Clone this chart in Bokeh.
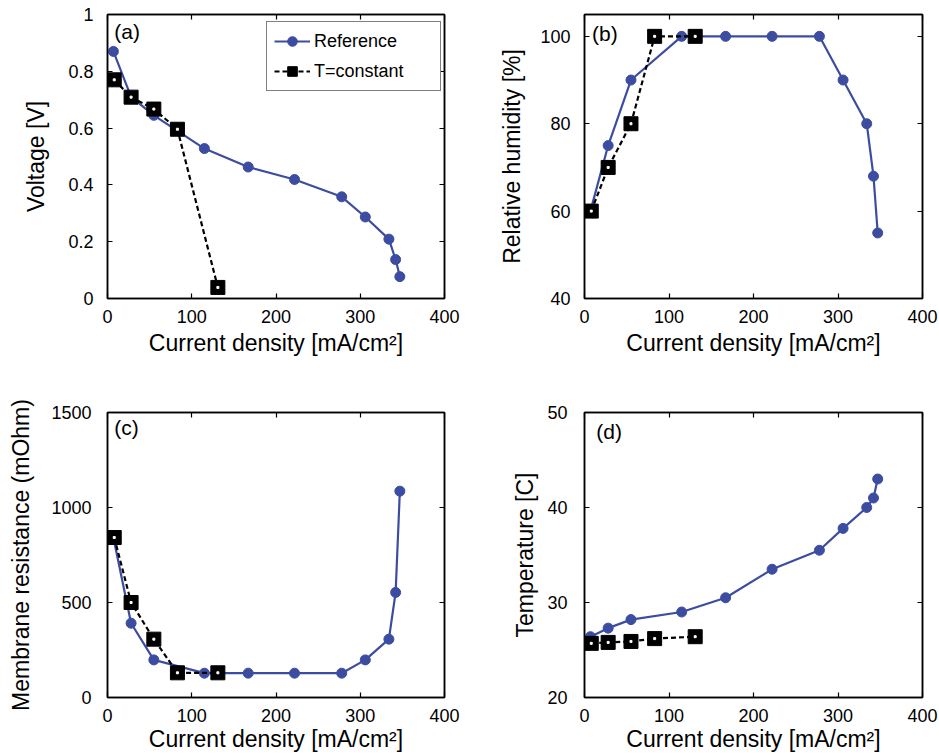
from bokeh.plotting import figure
from bokeh.layouts import column, row
from bokeh.models import (FixedTicker, LinearAxis, Legend, LegendItem, Label, Range1d)
from bokeh.embed import file_html
from bokeh.resources import INLINE

# ---------------- data ----------------
x_ref = [7, 28, 55, 115, 167, 222, 278, 306, 334, 342, 347]
x_tc = [8, 28, 55, 83, 131]

volt_ref = [0.87, 0.71, 0.645, 0.528, 0.463, 0.419, 0.358, 0.287, 0.209, 0.137, 0.077]
volt_tc = [0.77, 0.709, 0.667, 0.596, 0.039]

rh_ref = [60, 75, 90, 100, 100, 100, 100, 90, 80, 68, 55]
rh_tc = [60, 70, 80, 100, 100]

res_ref = [842, 391, 198, 128, 128, 128, 128, 198, 307, 553, 1086]
res_tc = [842, 500, 307, 130, 130]

temp_ref = [26.4, 27.3, 28.2, 29.0, 30.5, 33.5, 35.5, 37.8, 40.0, 41.0, 43.0]
temp_tc = [25.7, 25.8, 25.9, 26.2, 26.4]

x_ticks = [0, 100, 200, 300, 400]
volt_ticks = [0, 0.2, 0.4, 0.6, 0.8, 1.0]
volt_tick_labels = {0: "0", 1: "1"}
rh_ticks = [40, 60, 80, 100]
res_ticks = [0, 500, 1000, 1500]
temp_ticks = [20, 30, 40, 50]

x_label = "Current density [mA/cm\u00b2]"
series_names = ["Reference", "T=constant"]

BLUE = "#3c4da1"
FONT = "Liberation Sans"
TICK_FS = "18px"
LABEL_FS = "23px"


def style_axis(ax, show_labels=True):
    ax.axis_line_color = "black"
    ax.axis_line_width = 1.5
    ax.major_tick_line_color = "black"
    ax.major_tick_line_width = 1.2
    ax.major_tick_in = 5
    ax.major_tick_out = 0
    ax.minor_tick_line_color = None
    ax.major_label_text_font = FONT
    ax.major_label_text_color = "black"
    ax.axis_label_text_font = FONT
    ax.axis_label_text_font_style = "normal"
    ax.axis_label_text_font_size = LABEL_FS
    ax.axis_label_text_color = "black"
    ax.major_label_text_font_size = TICK_FS
    if not show_labels:
        ax.major_label_text_font_size = "1px"
        ax.major_label_text_color = None
        ax.major_label_text_alpha = 0
        ax.major_label_standoff = 0


def make_fig(w, h, bl, br, bt, bb, yr, yticks, ylabel, y_label_standoff,
             y_tick_standoff, xs_ref, ys_ref, xs_tc, ys_tc, tag, tag_xy,
             overrides=None, x_label_standoff=4):
    p = figure(width=w, height=h, output_backend="svg", toolbar_location=None,
               x_range=Range1d(0, 400), y_range=Range1d(*yr),
               min_border_left=bl, min_border_right=br,
               min_border_top=bt, min_border_bottom=bb,
               background_fill_color="white", border_fill_color="white")
    p.grid.visible = False
    p.outline_line_color = "black"
    p.outline_line_width = 1.5

    style_axis(p.xaxis[0])
    p.xaxis[0].ticker = FixedTicker(ticks=x_ticks)
    p.xaxis[0].axis_label = x_label
    p.xaxis[0].major_label_standoff = 11
    p.xaxis[0].axis_label_standoff = x_label_standoff

    style_axis(p.yaxis[0])
    p.yaxis[0].ticker = FixedTicker(ticks=yticks)
    p.yaxis[0].axis_label = ylabel
    p.yaxis[0].major_label_standoff = y_tick_standoff
    p.yaxis[0].axis_label_standoff = y_label_standoff
    if overrides:
        p.yaxis[0].major_label_overrides = overrides

    top = LinearAxis(ticker=FixedTicker(ticks=x_ticks))
    style_axis(top, show_labels=False)
    p.add_layout(top, "above")
    right = LinearAxis(ticker=FixedTicker(ticks=yticks))
    style_axis(right, show_labels=False)
    p.add_layout(right, "right")

    l1 = p.line(xs_ref, ys_ref, line_color=BLUE, line_width=2.2)
    c1 = p.scatter(xs_ref, ys_ref, marker="circle", size=10,
                   fill_color=BLUE, line_color=BLUE)
    l2 = p.line(xs_tc, ys_tc, line_color="black", line_width=2.2,
                line_dash="5 3")
    s2 = p.scatter(xs_tc, ys_tc, marker="square", size=14,
                   fill_color="black", line_color="black")
    p.scatter(xs_tc, ys_tc, marker="square", size=2,
              fill_color="white", line_color="white")

    p.add_layout(Label(x=tag_xy[0], y=tag_xy[1], text=tag,
                       text_font=FONT, text_font_size="21px",
                       text_baseline="top", text_color="black"))
    return p, (l1, c1), (l2, s2)


pa, ra, ta = make_fig(470, 385, 107, 26, 14, 87, (0, 1), volt_ticks,
                      "Voltage [V]", 16, 14,
                      x_ref, volt_ref, x_tc, volt_tc, "(a)", (8, 0.98),
                      overrides=volt_tick_labels)
legend = Legend(items=[LegendItem(label=series_names[0], renderers=list(ra)),
                       LegendItem(label=series_names[1], renderers=list(ta))],
                location=(159, 207), margin=0, padding=7, spacing=6,
                glyph_width=36, glyph_height=24, label_height=22,
                label_width=119, label_standoff=4,
                label_text_font=FONT, label_text_font_size="18px",
                label_text_color="black",
                border_line_color="black", border_line_width=1.5,
                background_fill_color="white", background_fill_alpha=1.0)
pa.add_layout(legend)

pb, _, _ = make_fig(469, 385, 114, 17, 14, 87, (40, 105), rh_ticks,
                    "Relative humidity [%]", 12, 14,
                    x_ref, rh_ref, x_tc, rh_tc, "(b)", (9, 103.3))

pc, _, _ = make_fig(470, 370, 107, 26, 27, 58, (0, 1500), res_ticks,
                    "Membrane resistance (mOhm)", 14, 16,
                    x_ref, res_ref, x_tc, res_tc, "(c)", (8, 1482),
                    x_label_standoff=1)

pd_, _, _ = make_fig(469, 370, 114, 17, 27, 58, (20, 50), temp_ticks,
                     "Temperature [C]", 6, 17,
                     x_ref, temp_ref, x_tc, temp_tc, "(d)", (14, 49.2),
                     x_label_standoff=1)

layout = column(row(pa, pb, spacing=0), row(pc, pd_, spacing=0), spacing=0)

open("out.html", "w").write(file_html(layout, INLINE))
